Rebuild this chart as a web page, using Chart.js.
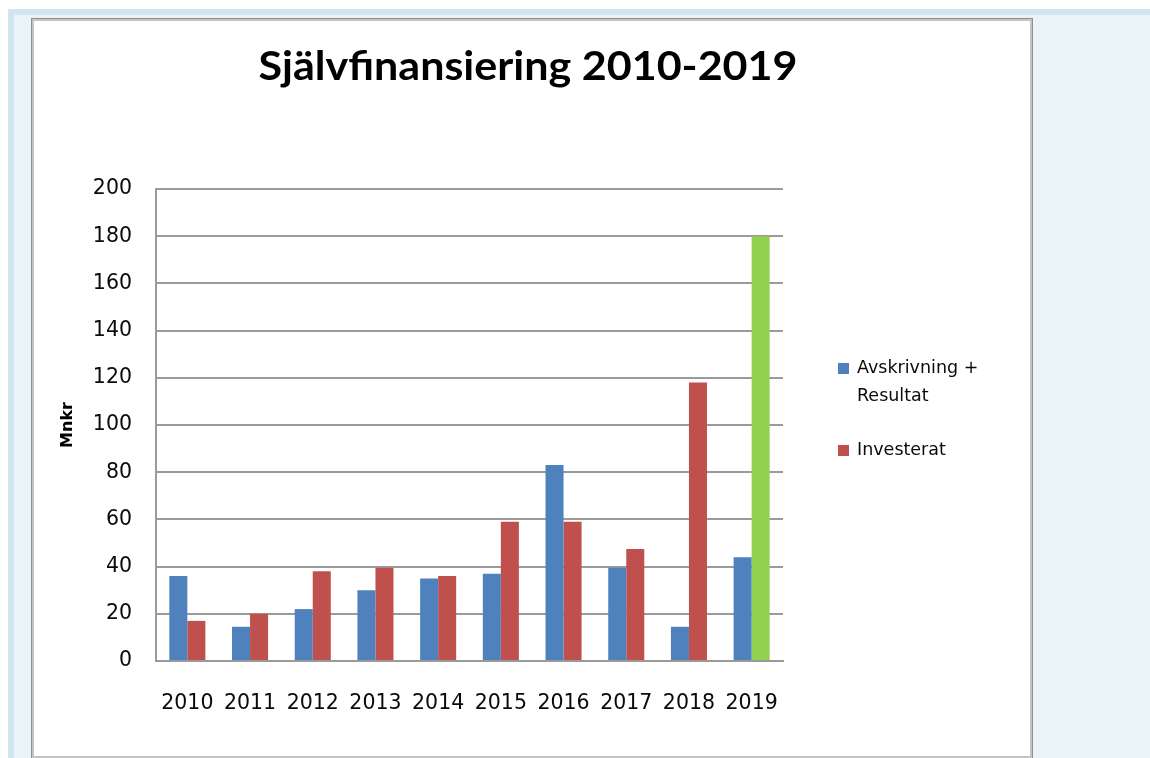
<!DOCTYPE html>
<html>
<head>
<meta charset="utf-8">
<script src="https://cdn.jsdelivr.net/npm/chart.js@4/dist/chart.umd.min.js"></script>
<style>
html,body{margin:0;padding:0;background:#fff;}
canvas{display:block;}
</style>
</head>
<body>
<canvas id="c" width="1150" height="758"></canvas>
<script>
// ---- data ----
const chartTitle = 'Självfinansiering 2010-2019';
const yAxisTitle = 'Mnkr';
const categories = ['2010','2011','2012','2013','2014','2015','2016','2017','2018','2019'];
const seriesNames = ['Avskrivning + Resultat', 'Investerat'];
const avskrivningResultat = [36, 14.5, 22, 30, 35, 37, 83, 39.5, 14.5, 44];
const investerat = [17, 20, 38, 39.5, 36, 59, 59, 47.5, 118, 180];
const yTicks = [0, 20, 40, 60, 80, 100, 120, 140, 160, 180, 200];

const BLUE = '#4f81bd', RED = '#c0504d', GREEN = '#92d050';
const investColors = categories.map((c, i) => i === categories.length - 1 ? GREEN : RED);

const TXT = '#0a0a0a';
const TICK_FONT = {family: '"DejaVu Sans", Verdana, sans-serif', size: 20.5};

const pagePlugin = {
  id: 'page',
  beforeDraw(chart) {
    const ctx = chart.ctx;
    ctx.save();
    ctx.fillStyle = '#ffffff';
    ctx.fillRect(0, 0, 1150, 758);
    ctx.fillStyle = '#d1e5f0';
    ctx.fillRect(8, 9, 1142, 749);
    ctx.fillStyle = '#eaf3f7';
    ctx.fillRect(14, 15, 1136, 743);
    // chart box
    ctx.fillStyle = '#8e8e8e';
    ctx.fillRect(31, 18, 1002, 740);
    ctx.fillStyle = '#c4c4c4';
    ctx.fillRect(32, 19, 1000, 739);
    ctx.fillStyle = '#ffffff';
    ctx.fillRect(34, 21, 996, 735);
    ctx.restore();
  },
  afterDraw(chart) {
    const ctx = chart.ctx;
    ctx.save();
    // title
    ctx.fillStyle = '#000';
    ctx.font = 'bold 40px Lato, "Open Sans", sans-serif';
    ctx.textAlign = 'center';
    ctx.textBaseline = 'alphabetic';
    const w = ctx.measureText(chartTitle).width;
    const sx = 539 / w;
    ctx.translate(528, 80);
    ctx.scale(sx, 1);
    ctx.fillText(chartTitle, 0, 0);
    ctx.setTransform(1, 0, 0, 1, 0, 0);
    // legend
    ctx.font = '17.5px "DejaVu Sans", Verdana, sans-serif';
    ctx.textAlign = 'left';
    ctx.textBaseline = 'middle';
    const colors = [BLUE, RED];
    let y = 368;
    seriesNames.forEach((name, i) => {
      const words = name.split(' ');
      const lines = [];
      let cur = '';
      words.forEach(wd => {
        const test = cur ? cur + ' ' + wd : wd;
        if (ctx.measureText(test).width > 135 && cur) { lines.push(cur); cur = wd; }
        else cur = test;
      });
      if (cur) lines.push(cur);
      ctx.fillStyle = colors[i];
      ctx.fillRect(838, y - 5, 11, 11);
      ctx.fillStyle = TXT;
      lines.forEach((ln, j) => ctx.fillText(ln, 857, y + j * 28));
      y += (lines.length - 1) * 28 + 54;
    });
    ctx.restore();
  }
};

new Chart(document.getElementById('c'), {
  type: 'bar',
  data: {
    labels: categories,
    datasets: [
      {label: seriesNames[0], data: avskrivningResultat, backgroundColor: BLUE,
       categoryPercentage: 0.575, barPercentage: 1.0},
      {label: seriesNames[1], data: investerat, backgroundColor: investColors,
       categoryPercentage: 0.575, barPercentage: 1.0}
    ]
  },
  options: {
    responsive: false,
    devicePixelRatio: 1,
    animation: false,
    layout: {padding: {left: 0, right: 367, top: 189, bottom: 0}},
    plugins: {
      legend: {display: false},
      title: {display: false},
      tooltip: {enabled: false}
    },
    scales: {
      x: {
        grid: {display: false},
        border: {display: true, color: '#9a9a9a', width: 2},
        ticks: {color: TXT, font: TICK_FONT, padding: 22, maxRotation: 0, autoSkip: false},
        afterFit(s) { s.height = 97; }
      },
      y: {
        min: 0, max: 200,
        afterBuildTicks(s) { s.ticks = yTicks.map(v => ({value: v})); },
        grid: {color: '#9a9a9a', lineWidth: 2, drawTicks: false},
        border: {display: true, color: '#9a9a9a', width: 2},
        ticks: {color: TXT, font: TICK_FONT, padding: 24},
        title: {display: true, text: yAxisTitle, color: '#000',
                font: {family: '"DejaVu Sans", Verdana, sans-serif', size: 16, weight: 'bold'},
                padding: {top: 58, bottom: 0}},
        afterFit(s) { s.width = 156; }
      }
    }
  },
  plugins: [pagePlugin]
});
</script>
</body>
</html>
